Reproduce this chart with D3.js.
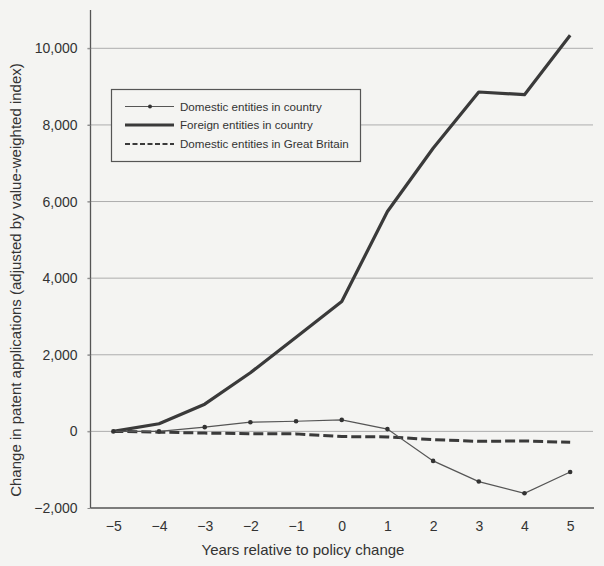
<!DOCTYPE html>
<html>
<head>
<meta charset="utf-8">
<script src="https://cdn.jsdelivr.net/npm/d3@7"></script>
<style>
  html, body { margin: 0; padding: 0; background: #f4f4f2; }
  svg { display: block; font-family: "Liberation Sans", Arial, Helvetica, sans-serif; }
</style>
</head>
<body>
<svg id="chart" width="604" height="566"></svg>
<script>
const years = [-5, -4, -3, -2, -1, 0, 1, 2, 3, 4, 5];
const domesticCountry = [0, 0, 110, 240, 265, 300, 60, -770, -1310, -1615, -1060];
const foreignCountry = [0, 200, 710, 1530, 2460, 3390, 5740, 7390, 8860, 8790, 10340];
const domesticGB = [0, -20, -45, -60, -65, -135, -145, -215, -260, -250, -285];
const yTicks = [-2000, 0, 2000, 4000, 6000, 8000, 10000];
const seriesNames = ["Domestic entities in country", "Foreign entities in country", "Domestic entities in Great Britain"];
const xTitle = "Years relative to policy change";
const yTitle = "Change in patent applications (adjusted by value-weighted index)";

(function () {
const svg = d3.select("#chart");
const W = 604, H = 566;
const mLeft = 90.5, mRight = 593, mTop = 10, mBottom = 508;

svg.append("rect").attr("width", W).attr("height", H).attr("fill", "#f4f4f2");

const x = d3.scaleLinear().domain([-5.5, 5.5]).range([mLeft, mRight]);
const y = d3.scaleLinear().domain([-2000, 11000]).range([mBottom, mTop]);

// gridlines
svg.append("g").selectAll("line").data(yTicks.filter(d => d !== -2000)).join("line")
  .attr("x1", mLeft - 3).attr("x2", mRight)
  .attr("y1", d => y(d)).attr("y2", d => y(d))
  .attr("stroke", "#adadad").attr("stroke-width", 1);

// y axis
const yAxis = d3.axisLeft(y).tickValues(yTicks).tickSize(3).tickPadding(10)
  .tickFormat(d => d < 0 ? "\u2212" + d3.format(",")(-d) : d3.format(",")(d));
const gy = svg.append("g").attr("transform", `translate(${mLeft},0)`).call(yAxis);
gy.select(".domain").attr("stroke", "#555").attr("stroke-width", 1.3).attr("d", `M0,${mTop}V${mBottom}`);
gy.selectAll(".tick line").attr("stroke", "#888");
gy.selectAll(".tick text").attr("font-size", 14).attr("fill", "#333").attr("font-family", "Liberation Sans, Arial, sans-serif");

// x axis
const xAxis = d3.axisBottom(x).tickValues(years).tickSize(0).tickPadding(13)
  .tickFormat(d => d < 0 ? "\u2212" + (-d) : String(d));
const gx = svg.append("g").attr("transform", `translate(0,${mBottom})`).call(xAxis);
gx.select(".domain").attr("stroke", "#555").attr("stroke-width", 1.3).attr("d", `M${mLeft},0H${mRight + 1}`);
gx.selectAll(".tick text").attr("font-size", 14).attr("fill", "#333").attr("font-family", "Liberation Sans, Arial, sans-serif");

// lines
const line = d3.line().x((d, i) => x(years[i])).y(d => y(d));

svg.append("path").datum(domesticGB).attr("d", line)
  .attr("fill", "none").attr("stroke", "#3a3a3a").attr("stroke-width", 3)
  .attr("stroke-dasharray", "10,4");

svg.append("path").datum(foreignCountry).attr("d", line)
  .attr("fill", "none").attr("stroke", "#3a3a3a").attr("stroke-width", 3.2)
  .attr("stroke-linejoin", "round");

svg.append("path").datum(domesticCountry).attr("d", line)
  .attr("fill", "none").attr("stroke", "#555").attr("stroke-width", 1.2);
svg.append("g").selectAll("circle").data(domesticCountry).join("circle")
  .attr("cx", (d, i) => x(years[i])).attr("cy", d => y(d)).attr("r", 2.3)
  .attr("fill", "#333");

// legend
const lg = svg.append("g");
lg.append("rect").attr("x", 111.5).attr("y", 89.5).attr("width", 249).attr("height", 72)
  .attr("fill", "#f4f4f2").attr("stroke", "#555").attr("stroke-width", 1.2);
const rows = [106.5, 125, 144];
const styles = [
  { w: 1.2, dash: null, col: "#555" },
  { w: 3, dash: null, col: "#3a3a3a" },
  { w: 2.2, dash: "5,2.5", col: "#3a3a3a" }
];
seriesNames.forEach((name, i) => {
  const l = lg.append("line").attr("x1", 125).attr("x2", 174)
    .attr("y1", rows[i]).attr("y2", rows[i])
    .attr("stroke", styles[i].col).attr("stroke-width", styles[i].w);
  if (styles[i].dash) l.attr("stroke-dasharray", styles[i].dash);
  if (i === 0) lg.append("circle").attr("cx", 150).attr("cy", rows[i]).attr("r", 2).attr("fill", "#333");
  lg.append("text").attr("x", 180).attr("y", rows[i] + 4).attr("font-size", 11.6)
    .attr("fill", "#333").text(name);
});

// titles
svg.append("text").attr("x", 303).attr("y", 555).attr("text-anchor", "middle")
  .attr("font-size", 15).attr("fill", "#333").text(xTitle);
svg.append("text").attr("transform", "translate(21,280) rotate(-90)").attr("text-anchor", "middle")
  .attr("font-size", 15).attr("fill", "#333").text(yTitle);
})();
</script>
</body>
</html>
